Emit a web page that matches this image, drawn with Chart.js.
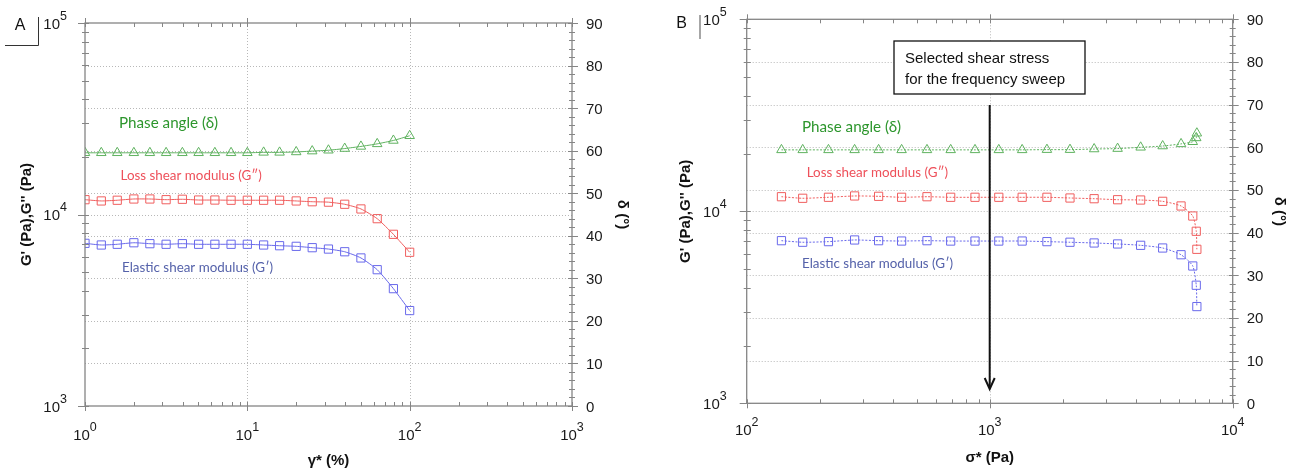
<!DOCTYPE html>
<html>
<head>
<meta charset="utf-8">
<script src="https://cdn.jsdelivr.net/npm/chart.js@4.4.0/dist/chart.umd.min.js"></script>
<style>
  html, body { margin: 0; padding: 0; background: #fff; }
  body { width: 1304px; height: 469px; position: relative; overflow: hidden; }
  canvas { position: absolute; top: 0; }
  #chartA { left: 0; }
  #chartB { left: 650px; }
</style>
</head>
<body>
<canvas id="chartA" width="640" height="469"></canvas>
<canvas id="chartB" width="654" height="469"></canvas>
<script>
// A: strain sweep, B: stress sweep
const strainA = [1, 1.26, 1.58, 2, 2.51, 3.16, 3.98, 5.01, 6.31, 7.94, 10, 12.6, 15.8, 20, 25.1, 31.6, 39.8, 50.1, 63.1, 79.4, 100];
const elasticA = [7070, 6930, 6990, 7120, 7040, 6990, 7040, 6990, 6990, 6990, 6990, 6930, 6870, 6820, 6710, 6600, 6390, 5930, 5150, 4100, 3150];
const lossA = [11950, 11770, 11870, 12050, 12050, 11950, 12010, 11900, 11900, 11870, 11870, 11870, 11870, 11770, 11660, 11600, 11310, 10690, 9510, 7880, 6350];
const deltaA = [59.5, 59.5, 59.5, 59.5, 59.5, 59.5, 59.5, 59.5, 59.5, 59.5, 59.5, 59.6, 59.6, 59.7, 59.9, 60.1, 60.5, 61.0, 61.6, 62.4, 63.5];

const stressB = [139, 170, 217, 278, 349, 434, 552, 691, 870, 1090, 1360, 1720, 2140, 2690, 3360, 4180, 5150, 6130, 6850, 7080, 7120];
const elasticB = [7030, 6900, 6950, 7090, 7030, 7000, 7030, 7000, 7000, 7000, 7000, 6950, 6900, 6840, 6760, 6650, 6440, 5940, 5190, 4120, 3190];
const lossB = [11910, 11690, 11830, 12020, 11970, 11830, 11910, 11830, 11830, 11830, 11830, 11830, 11730, 11630, 11490, 11450, 11270, 10660, 9450, 7870, 6340];
const deltaB = [59.4, 59.4, 59.4, 59.4, 59.4, 59.4, 59.4, 59.4, 59.4, 59.4, 59.4, 59.45, 59.45, 59.6, 59.7, 60.0, 60.3, 60.8, 61.3, 62.2, 63.3];

const selectedStress = 1000;

const modulusTicks = [1000, 10000, 100000];
const deltaTicks = [0, 10, 20, 30, 40, 50, 60, 70, 80, 90];

const FONT = '"Liberation Sans", Arial, sans-serif';
const NOTE_FONT = 'Lato, "Open Sans", sans-serif';
const GREEN = 'rgb(95,178,95)';
const RED = 'rgb(240,95,95)';
const BLUE = 'rgb(105,105,235)';
const AXIS_GRAY = '#858585';
const GRID_GRAY = '#b8b8b8';

function series(xs, ys) {
  return xs.map((x, i) => ({ x: x, y: ys[i] }));
}

function minorTicks(majors) {
  const out = [];
  for (let i = 0; i < majors.length - 1; i++) {
    for (let m = 2; m <= 9; m++) out.push(m * majors[i]);
  }
  return out;
}

function crisp(v) {
  return Math.round(v) + 0.5;
}

// "10" with a raised exponent, y is the middle of the "10"
function powerLabel(ctx, exp, x, y, align) {
  ctx.font = '15px ' + FONT;
  const wBase = ctx.measureText('10').width;
  ctx.font = '12.5px ' + FONT;
  const wExp = ctx.measureText(String(exp)).width;
  const total = wBase + wExp;
  const left = align === 'center' ? x - total / 2 : align === 'right' ? x - total : x;
  ctx.textAlign = 'left';
  ctx.textBaseline = 'alphabetic';
  ctx.font = '15px ' + FONT;
  ctx.fillText('10', left, y + 5.5);
  ctx.font = '12.5px ' + FONT;
  ctx.fillText(String(exp), left + wBase, y - 3.5);
}

function line(ctx, x1, y1, x2, y2) {
  ctx.beginPath();
  ctx.moveTo(x1, y1);
  ctx.lineTo(x2, y2);
  ctx.stroke();
}

function framePlugin(p) {
  return {
    id: 'frame',
    beforeDatasetsDraw(chart) {
      const { ctx, chartArea: a, scales } = chart;
      ctx.save();
      ctx.strokeStyle = GRID_GRAY;
      ctx.lineWidth = 1;
      ctx.setLineDash([1, 2]);
      p.xTicks.slice(1, -1).forEach(v => {
        const x = crisp(scales.x.getPixelForValue(v));
        line(ctx, x, a.top, x, a.bottom);
      });
      modulusTicks.slice(1, -1).forEach(v => {
        const y = crisp(scales.yMod.getPixelForValue(v));
        line(ctx, a.left, y, a.right, y);
      });
      deltaTicks.slice(1, -1).forEach(v => {
        const y = crisp(scales.yDelta.getPixelForValue(v));
        line(ctx, a.left, y, a.right, y);
      });
      ctx.restore();
    },
    afterDraw(chart) {
      const { ctx, chartArea: a, scales } = chart;
      ctx.save();

      // frame
      ctx.strokeStyle = AXIS_GRAY;
      ctx.lineWidth = 1.3;
      ctx.strokeRect(a.left, a.top, a.right - a.left, a.bottom - a.top);

      // ticks
      ctx.lineWidth = 1;
      p.xTicks.forEach(v => {
        const x = crisp(scales.x.getPixelForValue(v));
        line(ctx, x, a.bottom - 4, x, a.bottom + 5);
        line(ctx, x, a.top - 5, x, a.top + 4);
      });
      minorTicks(p.xTicks).forEach(v => {
        const x = crisp(scales.x.getPixelForValue(v));
        line(ctx, x, a.bottom - 4, x, a.bottom);
        line(ctx, x, a.top, x, a.top + 4);
      });
      modulusTicks.forEach(v => {
        const y = crisp(scales.yMod.getPixelForValue(v));
        line(ctx, a.left - 7, y, a.left + 4, y);
      });
      minorTicks(modulusTicks).forEach(v => {
        const y = crisp(scales.yMod.getPixelForValue(v));
        line(ctx, a.left - 3, y, a.left + 4, y);
      });
      for (let d = 0; d <= 90; d += 2) {
        const y = crisp(scales.yDelta.getPixelForValue(d));
        if (d % 10 === 0) line(ctx, a.right - 4, y, a.right + 6, y);
        else line(ctx, a.right - 3, y, a.right + 3, y);
      }

      // tick labels
      ctx.fillStyle = '#1a1a1a';
      p.xTicks.forEach(v => {
        powerLabel(ctx, Math.round(Math.log10(v)), scales.x.getPixelForValue(v), a.bottom + p.xLabelGap, 'center');
      });
      modulusTicks.forEach(v => {
        powerLabel(ctx, Math.round(Math.log10(v)), a.left - p.yLabelGap, scales.yMod.getPixelForValue(v), 'right');
      });
      ctx.font = '15px ' + FONT;
      ctx.textAlign = 'left';
      ctx.textBaseline = 'alphabetic';
      deltaTicks.forEach(v => {
        ctx.fillText(String(v), a.right + 14, scales.yDelta.getPixelForValue(v) + 5.5);
      });

      // axis titles
      ctx.fillStyle = '#111';
      ctx.font = 'bold 15px ' + FONT;
      ctx.textAlign = 'center';
      ctx.textBaseline = 'middle';
      ctx.fillText(p.xTitle, (a.left + a.right) / 2, p.xTitleY);
      ctx.save();
      ctx.translate(p.yTitleX, (a.top + a.bottom) / 2);
      ctx.rotate(-Math.PI / 2);
      ctx.fillText("G' (Pa),G'' (Pa)", 0, 0);
      ctx.restore();
      ctx.save();
      ctx.translate(p.y2TitleX, (a.top + a.bottom) / 2);
      ctx.rotate(Math.PI / 2);
      ctx.fillText('δ (°)', 0, 0);
      ctx.restore();

      // series notes
      ctx.textAlign = 'left';
      ctx.textBaseline = 'middle';
      p.notes.forEach(n => {
        ctx.font = n.size + 'px ' + NOTE_FONT;
        ctx.fillStyle = n.color;
        ctx.fillText(n.text, n.x, n.y);
      });

      if (p.extra) p.extra(chart);
      ctx.restore();
    }
  };
}

function makeDatasets(xs, elastic, loss, delta, dash) {
  const common = {
    borderWidth: 1,
    pointBorderWidth: 1,
    pointBackgroundColor: 'rgba(0,0,0,0)',
    tension: 0.2,
    borderDash: dash,
    fill: false
  };
  return [
    Object.assign({}, common, {
      label: 'Phase angle (δ)', data: series(xs, delta), yAxisID: 'yDelta',
      borderColor: GREEN, pointBorderColor: GREEN, pointStyle: 'triangle', pointRadius: 5.5
    }),
    Object.assign({}, common, {
      label: 'Loss shear modulus (G″)', data: series(xs, loss), yAxisID: 'yMod',
      borderColor: RED, pointBorderColor: RED, pointStyle: 'rect', pointRadius: 5.8
    }),
    Object.assign({}, common, {
      label: 'Elastic shear modulus (G′)', data: series(xs, elastic), yAxisID: 'yMod',
      borderColor: BLUE, pointBorderColor: BLUE, pointStyle: 'rect', pointRadius: 5.8
    })
  ];
}

function makeChart(id, xs, elastic, loss, delta, p) {
  return new Chart(document.getElementById(id), {
    type: 'line',
    data: { datasets: makeDatasets(xs, elastic, loss, delta, p.dash) },
    options: {
      responsive: false,
      animation: false,
      events: [],
      layout: { padding: p.padding },
      plugins: { legend: { display: false }, tooltip: { enabled: false } },
      scales: {
        x: { type: 'logarithmic', min: p.xTicks[0], max: p.xTicks[p.xTicks.length - 1], display: false },
        yMod: { type: 'logarithmic', position: 'left', min: 1000, max: 100000, display: false },
        yDelta: { type: 'linear', position: 'right', min: 0, max: 90, display: false }
      }
    },
    plugins: [framePlugin(p)]
  });
}

makeChart('chartA', strainA, elasticA, lossA, deltaA, {
  padding: { left: 85, top: 23, right: 68, bottom: 63 },
  dash: [],
  xTicks: [1, 10, 100, 1000],
  xLabelGap: 28.5,
  yLabelGap: 18,
  xTitle: 'γ* (%)',
  xTitleY: 461,
  yTitleX: 26.5,
  y2TitleX: 622,
  notes: [
    { text: 'Phase angle (δ)', x: 119, y: 123, size: 15.2, color: 'rgb(45,150,45)' },
    { text: 'Loss shear modulus (G″)', x: 120.5, y: 176, size: 13.4, color: 'rgb(238,80,90)' },
    { text: 'Elastic shear modulus (G′)', x: 122, y: 268, size: 13.4, color: 'rgb(85,98,170)' }
  ],
  extra(chart) {
    const ctx = chart.ctx;
    ctx.fillStyle = '#111';
    ctx.font = '16px ' + FONT;
    ctx.textAlign = 'center';
    ctx.textBaseline = 'middle';
    ctx.fillText('A', 20, 26);
    ctx.strokeStyle = '#333';
    ctx.lineWidth = 1;
    ctx.setLineDash([]);
    ctx.beginPath();
    ctx.moveTo(38.5, 17);
    ctx.lineTo(38.5, 45.5);
    ctx.lineTo(5, 45.5);
    ctx.stroke();
  }
});

makeChart('chartB', stressB, elasticB, lossB, deltaB, {
  padding: { left: 96.7, top: 19.3, right: 71.3, bottom: 65.7 },
  dash: [2, 1.5],
  xTicks: [100, 1000, 10000],
  xLabelGap: 25.7,
  yLabelGap: 20,
  xTitle: 'σ* (Pa)',
  xTitleY: 457.5,
  yTitleX: 36,
  y2TitleX: 629,
  notes: [
    { text: 'Phase angle (δ)', x: 152, y: 127.5, size: 15.2, color: 'rgb(45,150,45)' },
    { text: 'Loss shear modulus (G″)', x: 156.7, y: 173, size: 13.4, color: 'rgb(238,80,90)' },
    { text: 'Elastic shear modulus (G′)', x: 152, y: 264, size: 13.4, color: 'rgb(85,98,170)' }
  ],
  extra(chart) {
    const ctx = chart.ctx;
    ctx.setLineDash([]);
    ctx.fillStyle = '#111';
    ctx.font = '16px ' + FONT;
    ctx.textAlign = 'center';
    ctx.textBaseline = 'middle';
    ctx.fillText('B', 31.5, 24);
    ctx.strokeStyle = '#888';
    ctx.lineWidth = 1.5;
    line(ctx, 50, 15, 50, 39);

    // note box and arrow at the chosen stress
    ctx.fillStyle = '#fff';
    ctx.fillRect(244, 41, 191, 53);
    ctx.strokeStyle = '#111';
    ctx.lineWidth = 1.3;
    ctx.strokeRect(244, 41, 191, 53);
    ctx.fillStyle = '#111';
    ctx.font = '15px ' + FONT;
    ctx.textAlign = 'left';
    ctx.textBaseline = 'alphabetic';
    ctx.fillText('Selected shear stress', 255, 62.5);
    ctx.fillText('for the frequency sweep', 255, 83.5);

    const x = chart.scales.x.getPixelForValue(selectedStress);
    ctx.lineWidth = 2;
    line(ctx, x, 105, x, 388);
    ctx.beginPath();
    ctx.moveTo(x - 5, 378);
    ctx.lineTo(x, 389);
    ctx.lineTo(x + 5, 378);
    ctx.stroke();
  }
});
</script>
</body>
</html>
